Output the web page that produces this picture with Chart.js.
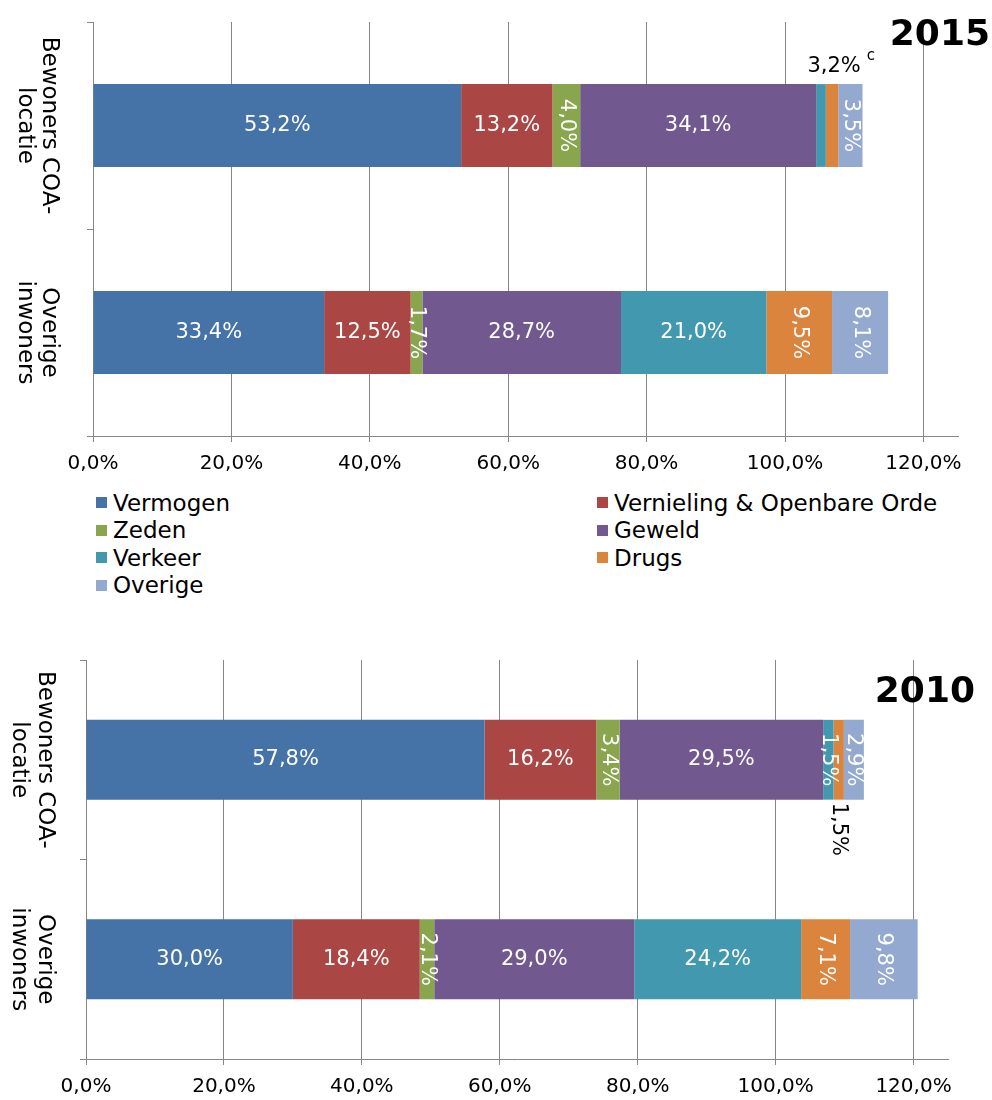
<!DOCTYPE html>
<html><head><meta charset="utf-8">
<script src="https://cdn.jsdelivr.net/npm/chart.js@4"></script>
<style>
html,body{margin:0;padding:0;background:#fff;}
body{width:992px;height:1100px;position:relative;overflow:hidden;font-family:"DejaVu Sans",Verdana,sans-serif;}
canvas{position:absolute;left:0;}
#c1{top:0;}
#c2{top:640px;}
.title{position:absolute;font-weight:bold;font-size:36px;line-height:40px;color:#000;}
.leg{position:absolute;height:27px;display:flex;align-items:center;font-size:23px;color:#000;white-space:nowrap;}
.leg i{display:inline-block;width:11px;height:11px;margin-right:6px;}
</style></head><body>
<canvas id="c1" width="992" height="480" style="width:992px;height:480px"></canvas>
<canvas id="c2" width="992" height="460" style="width:992px;height:460px"></canvas>
<div class="title" style="right:2px;top:13px">2015</div>
<div class="title" style="right:17px;top:670px">2010</div>
<div id="legend"></div>
<script>
// ---- data ----
const categories = [['Bewoners COA-', 'locatie'], ['Overige', 'inwoners']];
const seriesNames = ['Vermogen', 'Vernieling & Openbare Orde', 'Zeden', 'Geweld', 'Verkeer', 'Drugs', 'Overige'];
const seriesColors = ['#4572A7', '#AA4643', '#89A54E', '#71588F', '#4198AF', '#DB843D', '#93A9CF'];

// 2015 (Bewoners COA-locatie, Overige inwoners), in %
const vermogen2015   = [53.2, 33.4];
const vernieling2015 = [13.2, 12.5];
const zeden2015      = [4.0, 1.7];
const geweld2015     = [34.1, 28.7];
const verkeer2015    = [1.4, 21.0];
const drugs2015      = [1.8, 9.5];
const overige2015    = [3.5, 8.1];
const note2015       = ['3,2%', 'c'];   // combined label above small segments

// 2010
const vermogen2010   = [57.8, 30.0];
const vernieling2010 = [16.2, 18.4];
const zeden2010      = [3.4, 2.1];
const geweld2010     = [29.5, 29.0];
const verkeer2010    = [1.5, 24.2];
const drugs2010      = [1.5, 7.1];
const overige2010    = [2.9, 9.8];

const xTickValues = [0, 20, 40, 60, 80, 100, 120];
const xMax = 125;

const FONT = '"DejaVu Sans", Verdana, sans-serif';
const fmt = v => v.toFixed(1).replace('.', ',') + '%';

// ---- plugins ----
const yLabelPlugin = {
  id: 'yLabels',
  afterDraw(chart, args, opts) {
    const ys = chart.scales.y, ctx = chart.ctx;
    ctx.save();
    ctx.font = '23px ' + FONT;
    ctx.fillStyle = '#000';
    ctx.textAlign = 'center';
    ctx.textBaseline = 'middle';
    categories.forEach((lines, i) => {
      const py = ys.getPixelForValue(i);
      lines.forEach((ln, j) => {
        ctx.save();
        ctx.translate(opts.xs[j], py);
        ctx.rotate(Math.PI / 2);
        ctx.fillText(ln, 0, 0);
        ctx.restore();
      });
    });
    ctx.restore();
  }
};

const segLabelPlugin = {
  id: 'segLabels',
  afterDatasetsDraw(chart, args, opts) {
    const ctx = chart.ctx;
    const isIn = (list, d, i) => (list || []).some(p => p[0] === d && p[1] === i);
    ctx.save();
    ctx.font = '21px ' + FONT;
    chart.data.datasets.forEach((ds, d) => {
      const meta = chart.getDatasetMeta(d);
      meta.data.forEach((el, i) => {
        if (isIn(opts.hide, d, i)) return;
        const p = el.getProps(['x', 'y', 'base', 'height'], true);
        const left = Math.min(p.x, p.base), right = Math.max(p.x, p.base);
        const w = right - left;
        const cx = (left + right) / 2;
        const txt = fmt(ds.data[i]);
        if (isIn(opts.below, d, i)) {
          ctx.save();
          ctx.fillStyle = '#000';
          ctx.translate(cx, p.y + p.height / 2 + 3);
          ctx.rotate(Math.PI / 2);
          ctx.textAlign = 'left';
          ctx.textBaseline = 'middle';
          ctx.fillText(txt, 0, 0);
          ctx.restore();
          return;
        }
        ctx.save();
        ctx.fillStyle = '#fff';
        ctx.textAlign = 'center';
        ctx.textBaseline = 'middle';
        ctx.translate(cx, p.y);
        if (w < 75) ctx.rotate(Math.PI / 2);
        ctx.fillText(txt, 0, 0);
        ctx.restore();
      });
    });
    if (opts.note) {
      const n = opts.note;
      const el = chart.getDatasetMeta(n.ds).data[n.idx];
      const p = el.getProps(['x', 'y', 'base', 'height'], true);
      const cx = (p.x + p.base) / 2 + 2;
      const ty = p.y - p.height / 2 - 18;
      ctx.fillStyle = '#000';
      ctx.textAlign = 'center';
      ctx.textBaseline = 'middle';
      ctx.font = '21px ' + FONT;
      ctx.fillText(n.text[0], cx, ty);
      const tw = ctx.measureText(n.text[0]).width;
      ctx.font = '15px ' + FONT;
      ctx.textAlign = 'left';
      ctx.fillText(n.text[1], cx + tw / 2 + 6, ty - 10);
    }
    ctx.restore();
  }
};

function makeChart(canvasId, arrays, L, T, R, B, H, yXs, labelOpts) {
  return new Chart(document.getElementById(canvasId), {
    type: 'bar',
    data: {
      labels: categories.map(c => c.join(' ')),
      datasets: arrays.map((arr, k) => ({
        label: seriesNames[k],
        data: arr,
        backgroundColor: seriesColors[k],
        borderWidth: 0,
        categoryPercentage: 0.8,
        barPercentage: 0.5
      }))
    },
    options: {
      indexAxis: 'y',
      responsive: false,
      animation: false,
      layout: { padding: { top: T, right: 992 - R, left: 0, bottom: 0 } },
      plugins: {
        legend: { display: false },
        tooltip: { enabled: false },
        yLabels: { xs: yXs },
        segLabels: labelOpts
      },
      scales: {
        x: {
          stacked: true,
          min: 0, max: xMax,
          afterBuildTicks: s => { s.ticks = xTickValues.map(v => ({ value: v })); },
          afterFit: s => { s.height = H - B; },
          grid: { color: '#868686', tickColor: '#868686', lineWidth: 1, drawTicks: true, tickLength: 6 },
          border: { display: true, color: '#868686', width: 1 },
          ticks: { color: '#000', font: { family: FONT, size: 20 }, padding: 10, maxRotation: 0, callback: v => fmt(v) }
        },
        y: {
          stacked: true,
          offset: true,
          afterFit: s => { s.width = L; },
          grid: { offset: true, drawOnChartArea: false, drawTicks: true, tickLength: 6, color: '#868686', tickColor: '#868686' },
          border: { display: true, color: '#868686', width: 1 },
          ticks: { display: false }
        }
      }
    },
    plugins: [yLabelPlugin, segLabelPlugin]
  });
}

makeChart('c1',
  [vermogen2015, vernieling2015, zeden2015, geweld2015, verkeer2015, drugs2015, overige2015],
  93, 22, 958, 436, 480, [49, 25],
  { hide: [[4, 0], [5, 0]], below: [], note: { ds: 5, idx: 0, text: note2015 } });

makeChart('c2',
  [vermogen2010, vernieling2010, zeden2010, geweld2010, verkeer2010, drugs2010, overige2010],
  86, 20, 948, 419, 460, [45, 19],
  { hide: [], below: [[5, 0]], note: null });

// legend (HTML, two columns)
const legend = document.getElementById('legend');
seriesNames.forEach((name, k) => {
  const col = k % 2, row = Math.floor(k / 2);
  const d = document.createElement('div');
  d.className = 'leg';
  d.style.left = (col ? 597 : 96) + 'px';
  d.style.top = (489 + row * 27.5) + 'px';
  const sw = document.createElement('i');
  sw.style.background = seriesColors[k];
  d.appendChild(sw);
  d.appendChild(document.createTextNode(name));
  legend.appendChild(d);
});
</script>
</body></html>
